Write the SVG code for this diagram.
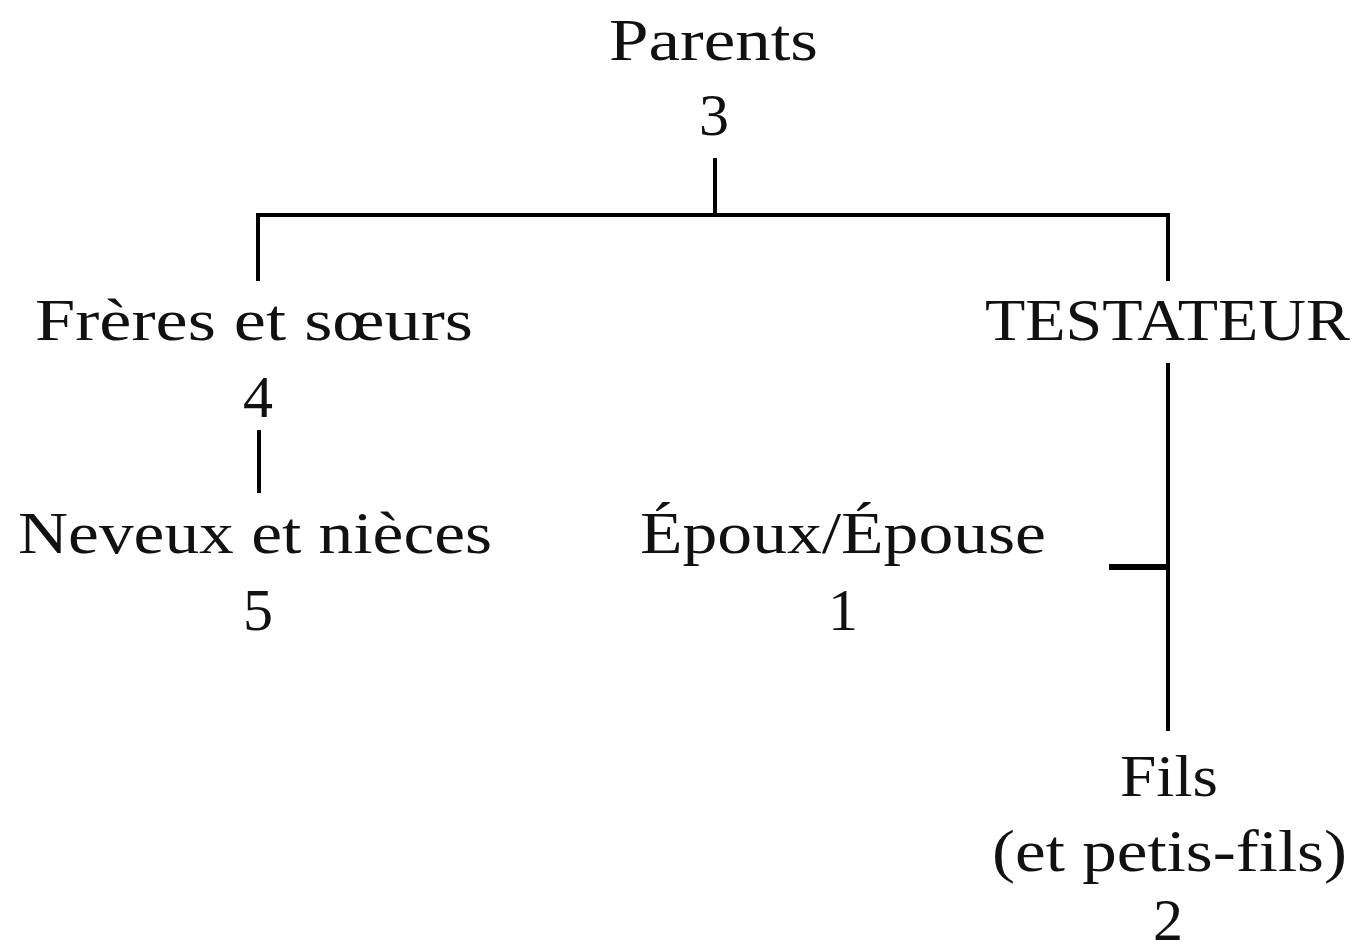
<svg xmlns="http://www.w3.org/2000/svg" width="1360" height="951" viewBox="0 0 1360 951">
<style>
text{font-family:"Liberation Serif","DejaVu Serif",serif;font-size:60px;fill:#111}
.c{text-anchor:middle}
.ln{stroke:#000;stroke-width:4;fill:none}
.tick{stroke:#000;stroke-width:6;fill:none}
</style>
<rect width="1360" height="951" fill="#fff"/>
<g id="connectors">
<line class="ln" x1="715" y1="158" x2="715" y2="217"/>
<line class="ln" x1="256" y1="215" x2="1170" y2="215"/>
<line class="ln" x1="258" y1="213" x2="258" y2="281"/>
<line class="ln" x1="1168" y1="213" x2="1168" y2="281"/>
<line class="ln" x1="259" y1="430" x2="259" y2="493"/>
<line class="ln" x1="1168" y1="363" x2="1168" y2="731"/>
<line class="tick" x1="1109" y1="567" x2="1168" y2="567"/>
</g>
<g id="parents">
<text x="609" y="60" textLength="209" lengthAdjust="spacingAndGlyphs">Parents</text>
<text class="c" x="714" y="135">3</text>
</g>
<g id="freres">
<text x="35" y="340" textLength="438" lengthAdjust="spacingAndGlyphs">Frères et sœurs</text>
<text class="c" x="258" y="417">4</text>
</g>
<g id="testateur">
<text x="985" y="340" textLength="365" lengthAdjust="spacingAndGlyphs">TESTATEUR</text>
</g>
<g id="neveux">
<text x="18" y="553" textLength="474" lengthAdjust="spacingAndGlyphs">Neveux et nièces</text>
<text class="c" x="258" y="630">5</text>
</g>
<g id="epoux">
<text x="640" y="553" textLength="406" lengthAdjust="spacingAndGlyphs">Époux/Épouse</text>
<text class="c" x="843" y="630">1</text>
</g>
<g id="fils">
<text x="1120" y="796" textLength="98" lengthAdjust="spacingAndGlyphs">Fils</text>
<text x="992" y="871" textLength="355" lengthAdjust="spacingAndGlyphs">(et petis-fils)</text>
<text class="c" x="1168" y="940">2</text>
</g>
</svg>
